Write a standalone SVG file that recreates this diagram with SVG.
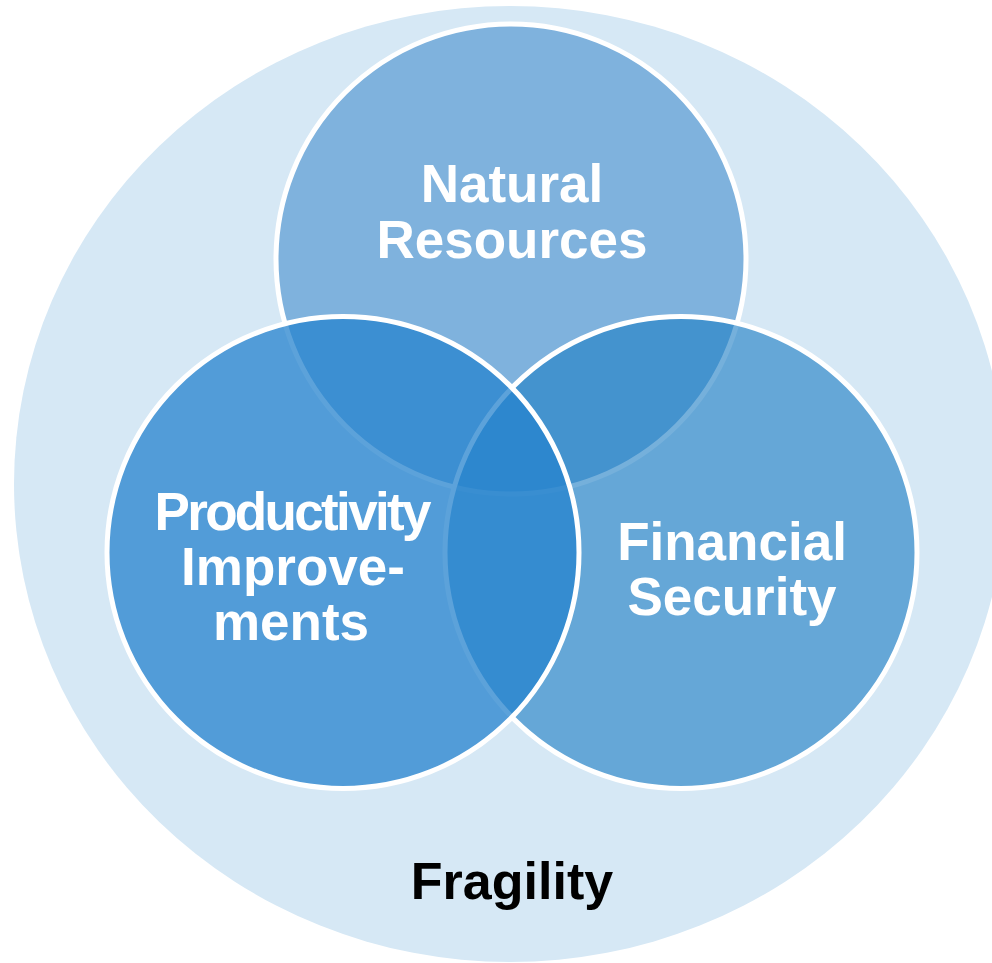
<svg xmlns="http://www.w3.org/2000/svg" width="992" height="963" viewBox="0 0 992 963">
  <style>
    .set { stroke: #ffffff; stroke-width: 5; }
    .label { font-family: "Liberation Sans", Arial, sans-serif; font-weight: bold; font-size: 53px; text-anchor: middle; fill: #ffffff; }
    .outer-label { fill: #000000; font-size: 52px; }
  </style>
  <rect width="992" height="963" fill="#ffffff"/>

  <!-- Enclosing context: Fragility -->
  <g id="fragility">
    <ellipse cx="510" cy="484" rx="496" ry="478" fill="#d6e8f5"/>
    <text class="label outer-label" x="512" y="899">Fragility</text>
  </g>

  <!-- Three overlapping sets, semi-transparent so the overlaps darken -->
  <g id="natural-resources">
    <circle class="set" cx="511" cy="259" r="235" fill="#62a0d4" fill-opacity="0.75"/>
  </g>
  <g id="financial-security">
    <circle class="set" cx="681" cy="552.5" r="236" fill="#217fc5" fill-opacity="0.62"/>
  </g>
  <g id="productivity-improvements">
    <circle class="set" cx="343" cy="552.5" r="236" fill="#2683cd" fill-opacity="0.75"/>
  </g>

  <!-- Labels drawn last so overlapping fills never cover them -->
  <g id="labels">
    <text class="label" x="512" y="202">Natural</text>
    <text class="label" x="512" y="258">Resources</text>
    <text class="label" x="293" y="530" textLength="277" lengthAdjust="spacing">Productivity</text>
    <text class="label" x="293" y="585">Improve-</text>
    <text class="label" x="291" y="640">ments</text>
    <text class="label" x="732" y="560">Financial</text>
    <text class="label" x="732" y="615">Security</text>
  </g>
</svg>
